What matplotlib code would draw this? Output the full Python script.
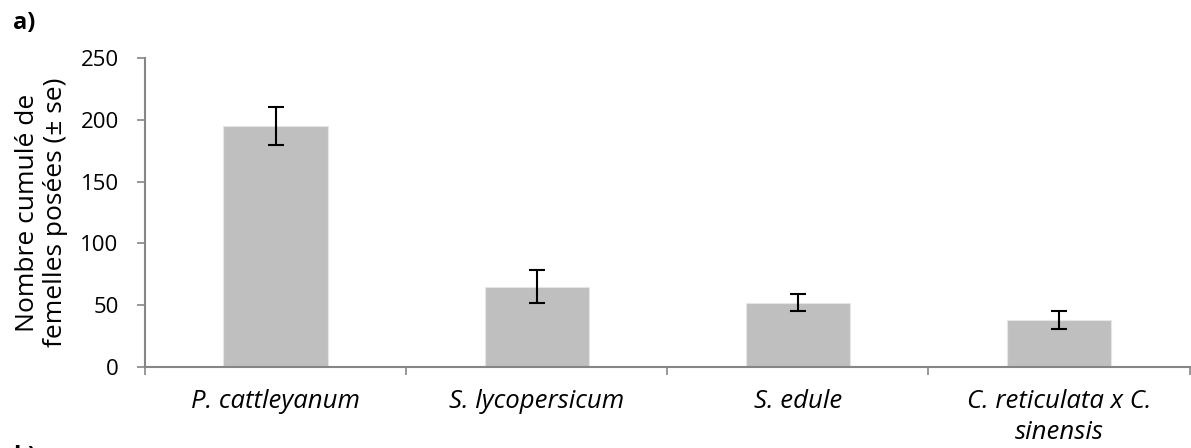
import matplotlib
matplotlib.use('Agg')
import matplotlib.pyplot as plt
import numpy as np

# data
hosts = ['P. cattleyanum', 'S. lycopersicum', 'S. edule', 'C. reticulata x C.\nsinensis']
femelles = [195, 65, 52, 38]
se = [15, 13.5, 7, 7]
yticks = [0, 50, 100, 150, 200, 250]

plt.rcParams['font.family'] = ['Open Sans', 'DejaVu Sans']
axis_grey = '#868686'

fig = plt.figure(figsize=(11.91, 4.48), dpi=100)
ax = fig.add_axes([0.1218, 0.1808, 0.877, 0.6897])

x = np.arange(len(hosts))
ax.bar(x, femelles, width=0.4, color='#BFBFBF', edgecolor='#E6E6E6', linewidth=0.8,
       yerr=se, error_kw=dict(ecolor='black', elinewidth=1.5, capsize=5.5, capthick=1.5))

ax.set_xlim(-0.5, len(hosts) - 0.5)
ax.set_ylim(0, 250)
ax.set_yticks(yticks)

ax.set_xticks(x)
ax.set_xticklabels(hosts, style='italic', fontsize=18.5, linespacing=1.3)
ax.set_xticks(np.arange(len(hosts) + 1) - 0.5, minor=True)
ax.tick_params(axis='x', which='major', length=0, pad=16)
ax.tick_params(axis='x', which='minor', length=6, width=1.2, color=axis_grey, direction='out')
ax.tick_params(axis='y', length=6, width=1.2, color=axis_grey, pad=13, labelsize=16)

for side in ['top', 'right']:
    ax.spines[side].set_visible(False)
for side in ['left', 'bottom']:
    ax.spines[side].set_color(axis_grey)
    ax.spines[side].set_linewidth(1.5)

fig.text(0.035, 0.525, 'Nombre cumulé de\nfemelles posées (± se)', rotation=90,
         ha='center', va='center', fontsize=19, multialignment='center', linespacing=1.15)
fig.text(0.011, 0.975, 'a)', fontsize=17, fontweight='bold', va='top', ha='left')
# start of panel b), cut by the lower edge as in the reference
fig.text(0.011, 0.006, 'b)', fontsize=17, fontweight='bold', va='top', ha='left')

fig.savefig('out.png', dpi=100)
